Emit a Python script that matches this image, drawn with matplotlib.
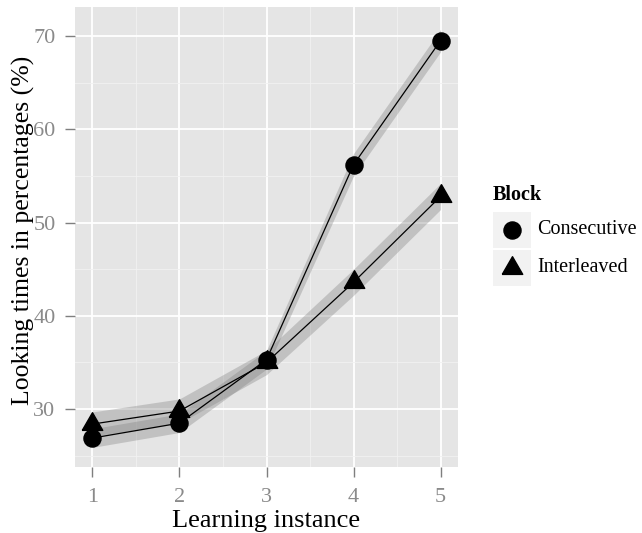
import matplotlib
matplotlib.use("Agg")
import matplotlib.pyplot as plt
import numpy as np

plt.rcParams['font.family'] = ['Liberation Serif', 'DejaVu Serif']

instance = [1, 2, 3, 4, 5]
consecutive = [26.9, 28.5, 35.3, 56.2, 69.5]
interleaved = [28.4, 29.8, 35.0, 43.6, 52.8]
cons_se = [1.0, 1.0, 1.0, 1.2, 1.2]
inter_se = [1.3, 1.3, 1.3, 1.4, 1.4]
xticks = [1, 2, 3, 4, 5]
yticks = [30, 40, 50, 60, 70]

tri = [(-1, -0.577), (1, -0.577), (0, 1.155), (-1, -0.577)]

fig = plt.figure(figsize=(6.42, 5.33), dpi=100)
ax = fig.add_axes([75/642, 1-467/533, 383/642, 460/533])
ax.set_facecolor('#e5e5e5')
for s in ax.spines.values():
    s.set_visible(False)

ax.set_xlim(0.8, 5.2)
ax.set_ylim(23.8, 73.1)
ax.set_xticks(xticks)
ax.set_yticks(yticks)
ax.set_xticks([1.5, 2.5, 3.5, 4.5], minor=True)
ax.set_yticks([25, 35, 45, 55, 65], minor=True)
ax.grid(True, which='major', color='white', linewidth=1.3)
ax.grid(True, which='minor', color='#f2f2f2', linewidth=0.6)
ax.set_axisbelow(True)
ax.tick_params(which='major', length=7, width=1, color='#7f7f7f', labelcolor='#8a8a8a', labelsize=16)
ax.tick_params(axis='x', which='major', pad=8)
ax.tick_params(axis='y', which='major', pad=7)
ax.tick_params(which='minor', length=0)

x = np.array(instance)
for vals, se in [(consecutive, cons_se), (interleaved, inter_se)]:
    v = np.array(vals); e = np.array(se)
    ax.fill_between(x, v - e, v + e, color='#808080', alpha=0.35, linewidth=0, zorder=2)

ax.plot(instance, consecutive, color='black', linewidth=0.9, zorder=3)
ax.plot(instance, interleaved, color='black', linewidth=0.9, zorder=3)
ax.plot(instance, consecutive, linestyle='none', marker='o', markersize=12.3, color='black', zorder=4)
ax.plot(instance, interleaved, linestyle='none', marker=tri, markersize=17, color='black', zorder=4)

ax.set_xlabel('Learning instance', fontsize=19)
ax.set_ylabel('Looking times in percentages (%)', fontsize=18.5)
ax.xaxis.set_label_coords(0.5, -0.094)
ax.yaxis.set_label_coords(-0.105, 0.515)

# legend
fig.text(493/642, 1-195/533, 'Block', fontsize=14.5, fontweight='bold', va='center', ha='left')
for i, (lab, mk, ms) in enumerate([('Consecutive', 'o', 12.3), ('Interleaved', tri, 17)]):
    yc = 230 + i * 38
    kax = fig.add_axes([493/642, 1-(yc+18)/533, 38/642, 36/533])
    kax.set_facecolor('#f2f2f2')
    for s in kax.spines.values():
        s.set_visible(False)
    kax.set_xticks([]); kax.set_yticks([])
    kax.set_xlim(0, 1); kax.set_ylim(0, 1)
    kax.plot([0.5], [0.5], marker=mk, markersize=ms, color='black', linestyle='none')
    fig.text(537/642, 1-yc/533, lab, fontsize=14.5, va='center', ha='left')

fig.savefig('out.png', dpi=100)
